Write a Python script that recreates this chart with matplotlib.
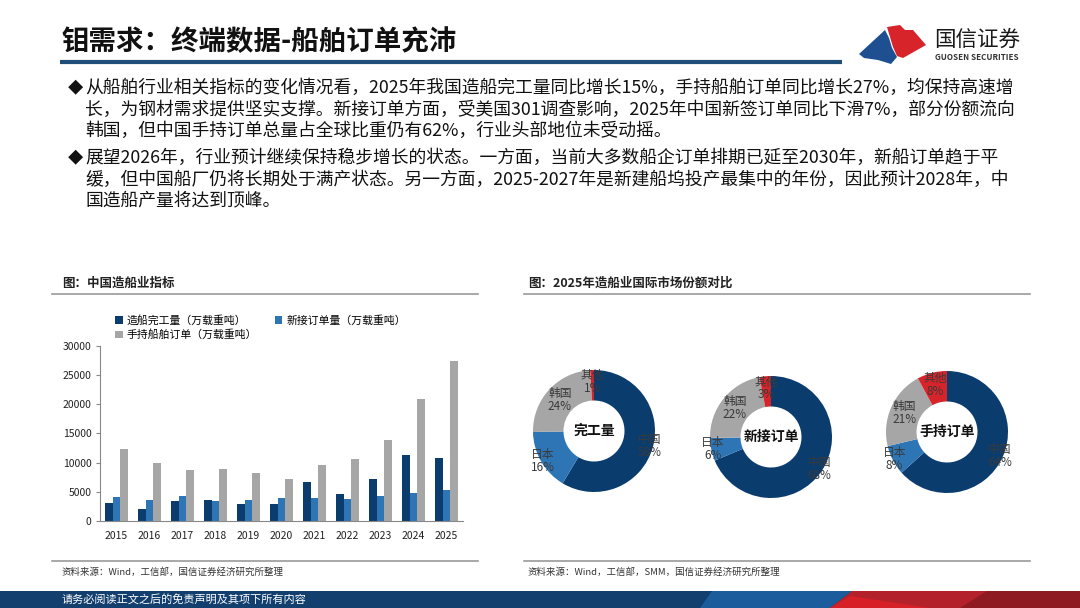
import numpy as np
import matplotlib
matplotlib.use("Agg")
import matplotlib.pyplot as plt
from matplotlib.patches import Polygon, Rectangle

plt.rcParams['font.family'] = ['Noto Sans CJK SC', 'DejaVu Sans']

# ---- data ----
years = ['2015', '2016', '2017', '2018', '2019', '2020', '2021', '2022', '2023', '2024', '2025']
completed = [3126, 2107, 3373, 3667, 2907, 2853, 6707, 4552, 7120, 11305, 10782]
new_orders = [4184, 3532, 4268, 3458, 3672, 3853, 3970, 3786, 4232, 4818, 5369]
backlog = [12304, 9961, 8723, 8931, 8166, 7111, 9584, 10557, 13939, 20872, 27442]
bar_names = ['造船完工量（万载重吨）', '新接订单量（万载重吨）', '手持船舶订单（万载重吨）']

countries = ['中国', '日本', '韩国', '其他']
share_completed = [58, 16, 24, 1]
share_new = [68, 6, 22, 3]
share_backlog = [64, 8, 21, 8]
donut_titles = ['完工量', '新接订单', '手持订单']

title = '钼需求：终端数据-船舶订单充沛'
para1 = ['从船舶行业相关指标的变化情况看，2025年我国造船完工量同比增长15%，手持船舶订单同比增长27%，均保持高速增',
         '长，为钢材需求提供坚实支撑。新接订单方面，受美国301调查影响，2025年中国新签订单同比下滑7%，部分份额流向',
         '韩国，但中国手持订单总量占全球比重仍有62%，行业头部地位未受动摇。']
para2 = ['展望2026年，行业预计继续保持稳步增长的状态。一方面，当前大多数船企订单排期已延至2030年，新船订单趋于平',
         '缓，但中国船厂仍将长期处于满产状态。另一方面，2025-2027年是新建船坞投产最集中的年份，因此预计2028年，中',
         '国造船产量将达到顶峰。']

NAVY = '#0b3c6e'
BLUE = '#2e75b6'
GRAY = '#a6a6a6'
RED = '#d7242b'
W, H = 1080, 608

fig = plt.figure(figsize=(10.8, 6.08), dpi=100)
fig.patch.set_facecolor('white')

# background axes in pixel coordinates (y downwards)
bg = fig.add_axes([0, 0, 1, 1])
bg.set_xlim(0, W)
bg.set_ylim(H, 0)
bg.axis('off')

# title + underline
bg.text(62, 42, title, fontsize=19.8, fontweight='bold', va='center', ha='left', color='#111111')
bg.plot([60, 842], [62, 62], color='#1f4e79', lw=3, solid_capstyle='butt')

# logo
bg.add_patch(Polygon([(859, 54), (885, 30), (889, 38), (892, 48), (897, 57), (891, 64), (878, 60), (864, 58)],
                     closed=True, color='#1d4f91', lw=0))
bg.add_patch(Polygon([(887, 27), (900, 25), (905, 30), (913, 30), (926, 45), (903, 58), (897, 56), (893, 47), (890, 37)],
                     closed=True, color='#d7242b', lw=0))
bg.text(934, 40, '国信证券', fontsize=15.5, va='center', ha='left', color='#1a1a1a')
bg.text(935, 58, 'GUOSEN SECURITIES', fontsize=5.8, fontweight='bold', va='center', ha='left', color='#333333')

# bullet paragraphs
for lines, y0 in [(para1, 88), (para2, 158)]:
    bg.text(68, y0, '◆', fontsize=11, va='center', ha='left', color='#111111')
    for i, line in enumerate(lines):
        bg.text(85, y0 + i * 21.5, line, fontsize=12.8, va='center', ha='left', color='#111111')

# section headers and rules
bg.text(62, 283, '图：中国造船业指标', fontsize=9, fontweight='bold', va='center', ha='left', color='#222222')
bg.text(528, 283, '图：2025年造船业国际市场份额对比', fontsize=9, fontweight='bold', va='center', ha='left', color='#222222')
for x0, x1 in [(52, 478), (524, 1030)]:
    bg.plot([x0, x1], [294, 294], color='#9a9a9a', lw=1.2)
    bg.plot([x0, x1], [561, 561], color='#9a9a9a', lw=1.2)
bg.text(62, 572, '资料来源：Wind，工信部，国信证券经济研究所整理', fontsize=6.8, va='center', ha='left', color='#333333')
bg.text(528, 572, '资料来源：Wind，工信部，SMM，国信证券经济研究所整理', fontsize=6.8, va='center', ha='left', color='#333333')

# footer band
bg.add_patch(Rectangle((0, 591), W, 17, color='#123f6d', lw=0))
bg.add_patch(Polygon([(700, 608), (712, 591), (852, 591), (830, 608)], closed=True, color='#1b5c9c', lw=0))
bg.add_patch(Polygon([(830, 608), (852, 591), (W, 591), (W, 608)], closed=True, color='#b3222b', lw=0))
bg.add_patch(Polygon([(830, 608), (850, 596), (930, 608)], closed=True, color='#d61f26', lw=0))
bg.add_patch(Polygon([(960, 608), (987, 591), (W, 591), (W, 608)], closed=True, color='#8e1b22', lw=0))
bg.text(62, 599, '请务必阅读正文之后的免责声明及其项下所有内容', fontsize=8, va='center', ha='left', color='white')

# ---- bar chart ----
ax = fig.add_axes([100 / W, (H - 521) / H, (463 - 100) / W, (521 - 345.7) / H])
x = np.arange(len(years))
bw = 0.24
b1 = ax.bar(x - bw, completed, bw, color=NAVY, label=bar_names[0])
b2 = ax.bar(x, new_orders, bw, color=BLUE, label=bar_names[1])
b3 = ax.bar(x + bw, backlog, bw, color=GRAY, label=bar_names[2])
ax.set_xlim(-0.5, len(years) - 0.5)
ax.set_ylim(0, 30000)
ax.set_yticks(np.arange(0, 30001, 5000))
ax.set_xticks(x)
ax.set_xticklabels(years)
ax.tick_params(axis='y', labelsize=7.5, length=3, color='#888888', labelcolor='#222222', pad=3)
ax.tick_params(axis='x', labelsize=7.5, length=0, labelcolor='#222222', pad=7)
for s in ['top', 'right']:
    ax.spines[s].set_visible(False)
for s in ['left', 'bottom']:
    ax.spines[s].set_color('#888888')
    ax.spines[s].set_linewidth(0.8)
ax.legend([b1, b3, b2], [bar_names[0], bar_names[2], bar_names[1]], ncol=2, frameon=False,
          fontsize=7.8, loc='upper left', bbox_to_anchor=(115 / W, (H - 315) / H),
          bbox_transform=fig.transFigure, handlelength=0.7, handleheight=0.7, handletextpad=0.4,
          columnspacing=1.6, labelspacing=0.35, borderaxespad=0, borderpad=0)

# ---- donuts ----
label_r = [0.95, 0.97, 0.76, 0.8]
R = 61
for share, name, (cx, cy) in zip([share_completed, share_new, share_backlog], donut_titles,
                                 [(594, 431), (771, 437), (947, 432)]):
    size = 2.6 * R
    pax = fig.add_axes([(cx - size / 2) / W, (H - cy - size / 2) / H, size / W, size / H])
    wedges, _ = pax.pie(share, colors=[NAVY, BLUE, GRAY, RED], startangle=90, counterclock=False,
                        radius=1, wedgeprops=dict(width=0.5, linewidth=0))
    pax.set_xlim(-1.3, 1.3)
    pax.set_ylim(-1.3, 1.3)
    pax.set_aspect('equal')
    pax.axis('off')
    for w, c, v, r in zip(wedges, countries, share, label_r):
        ang = np.deg2rad((w.theta1 + w.theta2) / 2)
        pax.text(r * np.cos(ang), r * np.sin(ang), f'{c}\n{v}%', fontsize=8.5, ha='center', va='center',
                 color='#3a3a3a', linespacing=1.0)
    pax.text(0, 0, name, fontsize=10, fontweight='bold', ha='center', va='center', color='#111111')

fig.savefig('out.png', dpi=100)
